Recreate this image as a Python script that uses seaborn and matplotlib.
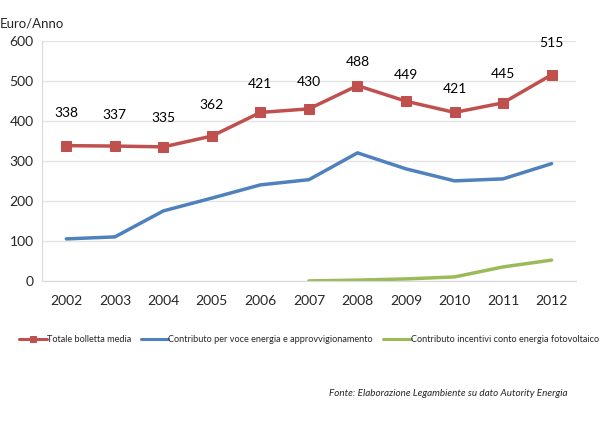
import numpy as np
import pandas as pd
import matplotlib.pyplot as plt
import seaborn as sns

# data
anni = [2002, 2003, 2004, 2005, 2006, 2007, 2008, 2009, 2010, 2011, 2012]
totale = [338, 337, 335, 362, 421, 430, 488, 449, 421, 445, 515]
energia = [105, 110, 175, 207, 240, 253, 320, 280, 250, 255, 293]
anni_fv = [2007, 2008, 2009, 2010, 2011, 2012]
fotovoltaico = [0, 2, 5, 10, 35, 52]
# height of each value label (as in the original, labels sit at different heights)
label_y = [420, 415, 408, 440, 492, 498, 548, 515, 480, 518, 595]

sns.set_style('white')
plt.rcParams['font.family'] = ['Lato', 'DejaVu Sans']

fig = plt.figure(figsize=(6.1, 4.25), dpi=100)
ax = fig.add_axes([0.069, 0.339, 0.875, 0.565])

df_tot = pd.DataFrame({'anno': anni, 'val': totale})
df_en = pd.DataFrame({'anno': anni, 'val': energia})
df_fv = pd.DataFrame({'anno': anni_fv, 'val': fotovoltaico})

sns.lineplot(data=df_tot, x='anno', y='val', ax=ax, color='#C0504D', lw=2.5,
             marker='s', markersize=7, markeredgecolor='#C0504D',
             label='Totale bolletta media')
sns.lineplot(data=df_en, x='anno', y='val', ax=ax, color='#4F81BD', lw=2.5,
             label='Contributo per voce energia e approvvigionamento')
sns.lineplot(data=df_fv, x='anno', y='val', ax=ax, color='#9BBB59', lw=2.5,
             label='Contributo incentivi conto energia fotovoltaico')

for a, v, ly in zip(anni, totale, label_y):
    ax.text(a, ly, str(v), ha='center', va='center', fontsize=10, color='black')

ax.set_xlim(2001.5, 2012.5)
ax.set_ylim(0, 600)
ax.set_yticks(range(0, 601, 100))
ax.set_xticks(anni)
ax.set_xticks(np.arange(2001.5, 2013, 1), minor=True)
ax.tick_params(axis='x', which='major', length=0, pad=10, labelsize=10)
ax.tick_params(axis='x', which='minor', length=5, color='#D9D9D9', direction='out')
ax.tick_params(axis='y', length=0, labelsize=10, pad=6)
ax.grid(axis='y', color='#E3E3E3', lw=1)
ax.set_axisbelow(True)
for s in ['top', 'right']:
    ax.spines[s].set_visible(False)
ax.spines['left'].set_color('#D9D9D9')
ax.spines['bottom'].set_color('#D9D9D9')
ax.set_xlabel('')
ax.set_ylabel('')

fig.text(0.0, 0.945, 'Euro/Anno', fontsize=9.5, ha='left', va='center')

leg = ax.legend(loc='center left', bbox_to_anchor=(-0.043, -0.246), ncol=3, frameon=False,
                fontsize=6.6, handlelength=3.0, handletextpad=0.0, columnspacing=1.1,
                borderaxespad=0, borderpad=0)
for h in leg.legend_handles:
    h.set_markersize(4.5)
    h.set_linewidth(2.2)

fig.text(0.93, 0.075, 'Fonte: Elaborazione Legambiente su dato Autority Energia',
         fontsize=7.1, style='italic', ha='right', va='center')

fig.savefig('out.png', dpi=100)
